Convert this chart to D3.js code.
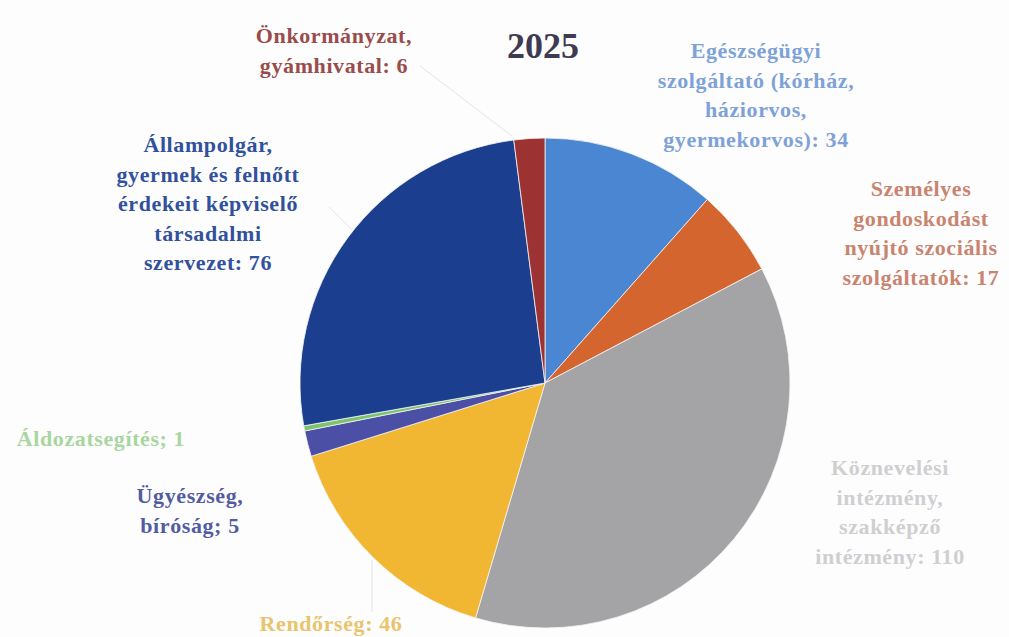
<!DOCTYPE html>
<html lang="hu">
<head>
<meta charset="utf-8">
<title>2025</title>
<script src="https://cdn.jsdelivr.net/npm/d3@7"></script>
<style>
  body { margin: 0; background: #fdfdfd; }
  svg text { font-family: "Liberation Serif", "Times New Roman", serif; font-weight: bold; }
</style>
</head>
<body>
<script>
// ---------- data ----------
var categories = [
  "Egészségügyi szolgáltató (kórház, háziorvos, gyermekorvos)",
  "Személyes gondoskodást nyújtó szociális szolgáltatók",
  "Köznevelési intézmény, szakképző intézmény",
  "Rendőrség",
  "Ügyészség, bíróság",
  "Áldozatsegítés",
  "Állampolgár, gyermek és felnőtt érdekeit képviselő társadalmi szervezet",
  "Önkormányzat, gyámhivatal"
];
var values = [34, 17, 110, 46, 5, 1, 76, 6];

// label text, split into lines as in the picture
var labelLines = [
  ["Egészségügyi", "szolgáltató (kórház,", "háziorvos,", "gyermekorvos): 34"],
  ["Személyes", "gondoskodást", "nyújtó szociális", "szolgáltatók: 17"],
  ["Köznevelési", "intézmény,", "szakképző", "intézmény: 110"],
  ["Rendőrség: 46"],
  ["Ügyészség,", "bíróság; 5"],
  ["Áldozatsegítés; 1"],
  ["Állampolgár,", "gyermek és felnőtt", "érdekeit képviselő", "társadalmi", "szervezet: 76"],
  ["Önkormányzat,", "gyámhivatal: 6"]
];

// styles
var sliceColors = ["#4a86d2", "#d4652e", "#a4a4a6", "#f1b632", "#4b4fa6", "#7cc36e", "#1b3e8e", "#9c3232"];
var labelColors = ["#7ea2d8", "#c98470", "#cfcfd2", "#e9c46e", "#535ba2", "#a9d6a0", "#31519c", "#9a4c4c"];

// label layout: centre x, first baseline y
var labelPos = [
  [756, 58], [921, 196], [890, 475], [331, 631], [190, 503], [101, 446], [208, 152], [334, 43]
];
var lineGap = 29.5;

// leader lines (faint)
var leaders = [
  [[420, 66], [512, 136]],
  [[329, 207], [352, 230]],
  [[372, 560], [372, 612]]
];

var w = 1009, h = 637;
var cx = 545, cy = 383, r = 245;

var svg = d3.select("body").append("svg")
  .attr("width", w)
  .attr("height", h);

var pie = d3.pie().sort(null).value(function(d) { return d; });
var arc = d3.arc().innerRadius(0).outerRadius(r);

var g = svg.append("g").attr("transform", "translate(" + cx + "," + cy + ")");

g.selectAll("path")
  .data(pie(values))
  .enter()
  .append("path")
  .attr("d", arc)
  .attr("fill", function(d, i) { return sliceColors[i]; })
  .attr("stroke", "#f4f4f4")
  .attr("stroke-width", 0.8);

// leader lines
svg.selectAll("line.leader")
  .data(leaders)
  .enter()
  .append("line")
  .attr("class", "leader")
  .attr("x1", function(d) { return d[0][0]; })
  .attr("y1", function(d) { return d[0][1]; })
  .attr("x2", function(d) { return d[1][0]; })
  .attr("y2", function(d) { return d[1][1]; })
  .attr("stroke", "#e4e4e4")
  .attr("stroke-width", 1);

// title
svg.append("text")
  .attr("x", 543)
  .attr("y", 58)
  .attr("text-anchor", "middle")
  .attr("font-size", "36px")
  .attr("fill", "#3e3a54")
  .text("2025");

// labels
var labels = svg.selectAll("text.lbl")
  .data(labelLines)
  .enter()
  .append("text")
  .attr("class", "lbl")
  .attr("text-anchor", "middle")
  .attr("font-size", "22px")
  .attr("letter-spacing", "0.6px")
  .attr("fill", function(d, i) { return labelColors[i]; })
  .attr("transform", function(d, i) {
    return "translate(" + labelPos[i][0] + "," + labelPos[i][1] + ")";
  });

labels.selectAll("tspan")
  .data(function(d) { return d; })
  .enter()
  .append("tspan")
  .attr("x", 0)
  .attr("y", function(d, j) { return j * lineGap; })
  .text(function(d) { return d; });
</script>
</body>
</html>
